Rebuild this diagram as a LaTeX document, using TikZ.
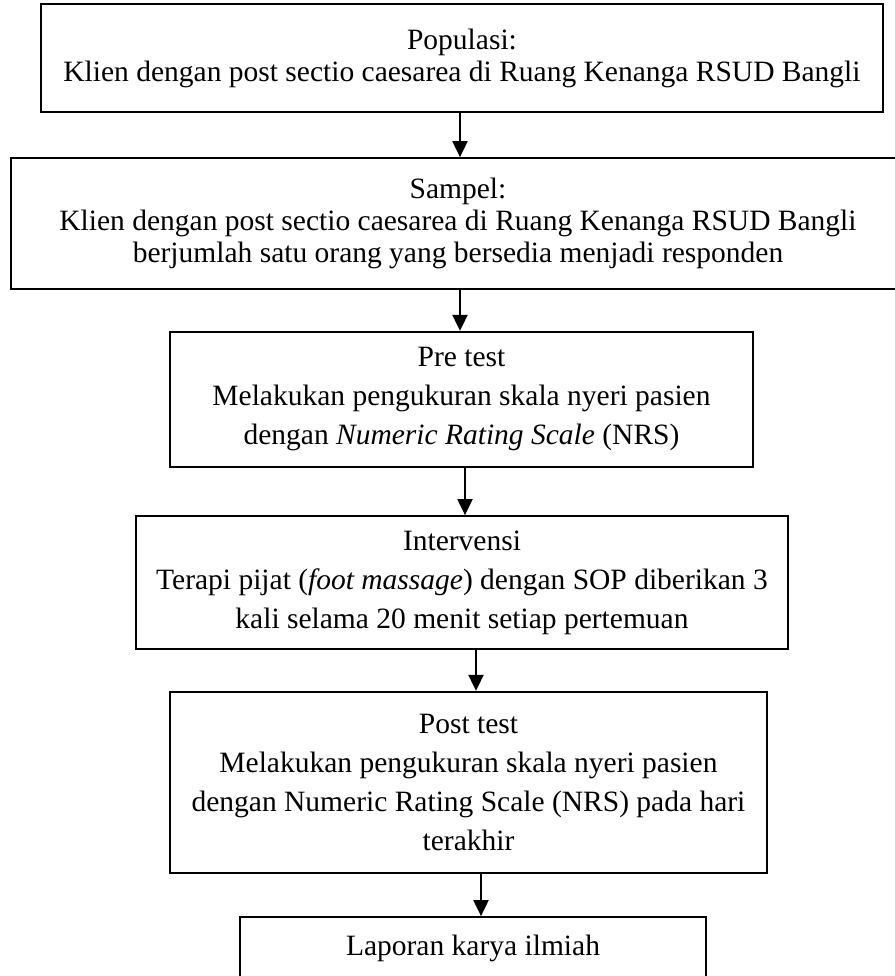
\documentclass[tikz,border=0pt]{standalone}
\usepackage{fontspec}
\setmainfont{Liberation Serif}
\usetikzlibrary{arrows.meta}
\begin{document}
\begin{tikzpicture}[x=0.4pt,y=-0.4pt,
  box/.style={draw, line width=0.7pt, inner sep=0pt, align=center},
  tight/.style={font=\fontsize{11.8pt}{12.8pt}\selectfont},
  loose/.style={font=\fontsize{11.8pt}{15.6pt}\selectfont},
  arr/.style={line width=0.8pt, -{Triangle[width=6pt,length=6.4pt]}}]
\useasboundingbox (0,0) rectangle (895,976);
\clip (0,0) rectangle (895,976);
\fill[white] (0,0) rectangle (895,976);

\node[box,tight,minimum width=336.8pt,minimum height=43.2pt] (b1) at (462,58)
  {Populasi:\\Klien dengan post sectio caesarea di Ruang Kenanga RSUD Bangli};
\node[box,tight,minimum width=357.6pt,minimum height=52.4pt] (b2) at (458,223.5)
  {Sampel:\\Klien dengan post sectio caesarea di Ruang Kenanga RSUD Bangli\\berjumlah satu orang yang bersedia menjadi responden};
\node[box,loose,minimum width=233.2pt,minimum height=54pt] (b3) at (461.5,399.2)
  {Pre test\\Melakukan pengukuran skala nyeri pasien\\dengan \textit{Numeric Rating Scale} (NRS)};
\node[box,loose,minimum width=260.8pt,minimum height=53.2pt] (b4) at (462,582.5)
  {Intervensi\\Terapi pijat (\textit{foot massage}) dengan SOP diberikan 3\\kali selama 20 menit setiap pertemuan};
\node[box,loose,minimum width=238.8pt,minimum height=72.5pt] (b5) at (468.5,782.3)
  {Post test\\Melakukan pengukuran skala nyeri pasien\\dengan Numeric Rating Scale (NRS) pada hari\\terakhir};
\node[box,loose,minimum width=186.6pt,minimum height=25.2pt] (b6) at (473,948.5)
  {Laporan karya ilmiah};

\coordinate (c1) at (460,0);
\coordinate (c2) at (460,0);
\coordinate (c3) at (465,0);
\coordinate (c4) at (476,0);
\coordinate (c5) at (481,0);

\draw[arr] (b1.south -| c1) -- (b2.north -| c1);
\draw[arr] (b2.south -| c2) -- (b3.north -| c2);
\draw[arr] (b3.south -| c3) -- (b4.north -| c3);
\draw[arr] (b4.south -| c4) -- (b5.north -| c4);
\draw[arr] (b5.south -| c5) -- (b6.north -| c5);
\end{tikzpicture}
\end{document}
